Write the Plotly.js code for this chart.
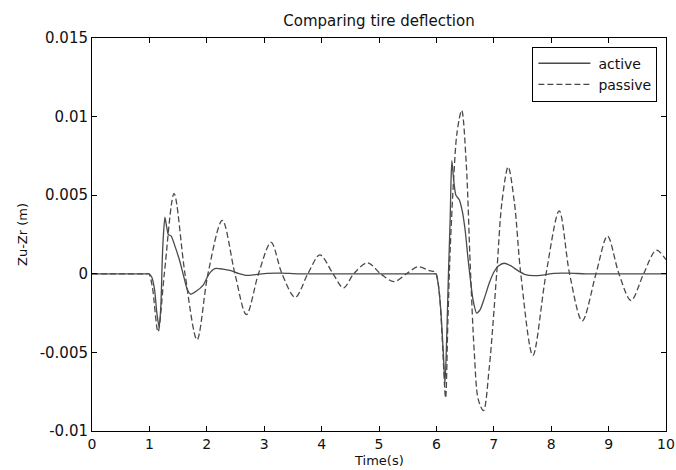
<!DOCTYPE html>
<html>
<head>
<meta charset="utf-8">
<script src="https://cdn.plot.ly/plotly-3.0.1.min.js"></script>
<style>html,body{margin:0;padding:0;background:#fff;}#chart{width:676px;height:470px;}</style>
</head>
<body>
<div id="chart"></div>
<script>
// Time (s) and tire deflection Zu-Zr (m)
const activeTime = [0, 0.5, 0.9, 0.95, 0.99, 1.04, 1.09, 1.13, 1.17, 1.20, 1.225, 1.245, 1.27, 1.30, 1.33, 1.38, 1.46, 1.53, 1.60, 1.66, 1.72, 1.82, 1.94, 2.04, 2.14, 2.28, 2.42, 2.55, 2.68, 2.85, 3.05, 3.3, 3.6, 4.5, 5.5, 5.9, 5.95,
  5.99, 6.03, 6.08, 6.12, 6.15, 6.18, 6.21, 6.24, 6.255, 6.27, 6.30, 6.34, 6.40, 6.45, 6.50, 6.55, 6.59, 6.64, 6.70, 6.76, 6.84, 6.92, 7.00, 7.08, 7.18, 7.30, 7.42, 7.55, 7.70, 7.85, 8.05, 8.3, 8.6, 9.0, 9.5, 10];
const activeDefl = [0, 0, 0, 0, 0, -0.0002, -0.0010, -0.0025, -0.0034, -0.0020, 0.0010, 0.0025, 0.0036, 0.0030, 0.0025, 0.0024, 0.0016, 0.0008, -0.0002, -0.0010, -0.0013, -0.0011, -0.0007, 0.0000, 0.00033, 0.00030, 0.00020, 0.00002, -0.00010, -0.00005, 0.00003, 0.00004, 0, 0, 0, 0, 0,
  0, -0.0006, -0.0025, -0.0050, -0.0070, -0.0040, 0.0000, 0.0035, 0.0060, 0.0072, 0.0060, 0.0050, 0.0047, 0.0040, 0.0028, 0.0010, -0.0003, -0.0017, -0.0025, -0.0023, -0.0015, -0.0006, 0.0001, 0.0005, 0.00067, 0.0005, 0.0002, -0.00005, -0.00012, -0.00008, 0.00003, 0.00004, 0, 0, 0, 0];

const passiveTime = [0, 0.5, 0.9, 0.95, 0.99, 1.05, 1.15, 1.26, 1.43, 1.62, 1.83, 2.02, 2.27, 2.49, 2.69, 2.90, 3.12, 3.31, 3.54, 3.76, 3.97, 4.20, 4.38, 4.56, 4.80, 5.03, 5.26, 5.48, 5.68, 5.88, 5.98,
  6.05, 6.10, 6.16, 6.20, 6.24, 6.30, 6.36, 6.44, 6.52, 6.59, 6.66, 6.73, 6.82, 6.92, 7.05, 7.14, 7.25, 7.36, 7.47, 7.68, 7.91, 8.14, 8.32, 8.54, 8.78, 8.98, 9.18, 9.39, 9.61, 9.83, 10];
const passiveDefl = [0, 0, 0, 0, 0, -0.0008, -0.0037, 0, 0.0051, 0, -0.0042, 0, 0.0034, 0, -0.0026, 0, 0.0020, 0, -0.0015, 0, 0.0012, 0, -0.0009, 0, 0.0007, 0, -0.0005, 0, 0.00045, 0.0002, 0.0001,
  -0.0012, -0.0040, -0.0079, -0.0030, 0.0015, 0.0060, 0.0090, 0.0104, 0.0070, 0.0005, -0.0050, -0.0080, -0.0087, -0.0060, 0, 0.0045, 0.0068, 0.0045, 0, -0.0052, 0, 0.0040, 0, -0.0030, 0, 0.0024, 0, -0.0017, 0, 0.0015, 0.0009];

const xTicks = [0, 1, 2, 3, 4, 5, 6, 7, 8, 9, 10];
const yTicks = [-0.01, -0.005, 0, 0.005, 0.01, 0.015];
const yTickText = ['-0.01', '-0.005', '0', '0.005', '0.01', '0.015'];

const font = 'DejaVu Sans, Liberation Sans, Arial, sans-serif';
const traces = [
  {x: activeTime, y: activeDefl, name: 'active', mode: 'lines',
   line: {color: '#4a4a4a', width: 1.3, shape: 'spline', smoothing: 0.6}},
  {x: passiveTime, y: passiveDefl, name: 'passive', mode: 'lines',
   line: {color: '#4a4a4a', width: 1.3, dash: '6px,3px', shape: 'spline', smoothing: 0.9}}
];
const axisCommon = {showline: true, linecolor: '#000', linewidth: 1, mirror: 'ticks', ticks: 'inside', ticklen: 5, tickcolor: '#000',
  showgrid: false, zeroline: false, tickfont: {family: font, size: 15, color: '#111'}};
const layout = {
  width: 676, height: 470,
  margin: {l: 92, r: 10, t: 38, b: 39},
  paper_bgcolor: '#fff', plot_bgcolor: '#fff',
  title: {text: 'Comparing tire deflection', font: {family: font, size: 15, color: '#111'}, x: 0.5, xref: 'paper', y: 1 - 21/470, yref: 'container', yanchor: 'middle'},
  xaxis: Object.assign({}, axisCommon, {range: [0, 10], tickvals: xTicks, automargin: false, tickfont: {family: font, size: 14, color: '#111'}}),
  yaxis: Object.assign({}, axisCommon, {range: [-0.01, 0.015], tickvals: yTicks, ticktext: yTickText, title: {text: 'Zu-Zr (m)', font: {family: font, size: 13, color: '#111'}, standoff: 9}, automargin: false}),
  annotations: [{text: 'Time(s)', xref: 'paper', yref: 'paper', x: 0.5, y: 0, yshift: -29, xanchor: 'center', yanchor: 'middle',
    showarrow: false, font: {family: font, size: 13, color: '#111'}}],
  showlegend: true,
  legend: {x: 0.985, y: 0.978, xanchor: 'right', yanchor: 'top', bgcolor: '#fff', bordercolor: '#000', borderwidth: 1,
    font: {family: font, size: 14, color: '#111'}, tracegroupgap: 0, itemwidth: 55}
};
Plotly.newPlot('chart', traces, layout, {staticPlot: true, displayModeBar: false}).then(function () {
  // lengthen the legend sample lines to fill the wider symbol column
  document.querySelectorAll('.legend .legendlines path').forEach(function (p) { p.setAttribute('d', 'M5,0h52'); });
});
</script>
</body>
</html>
